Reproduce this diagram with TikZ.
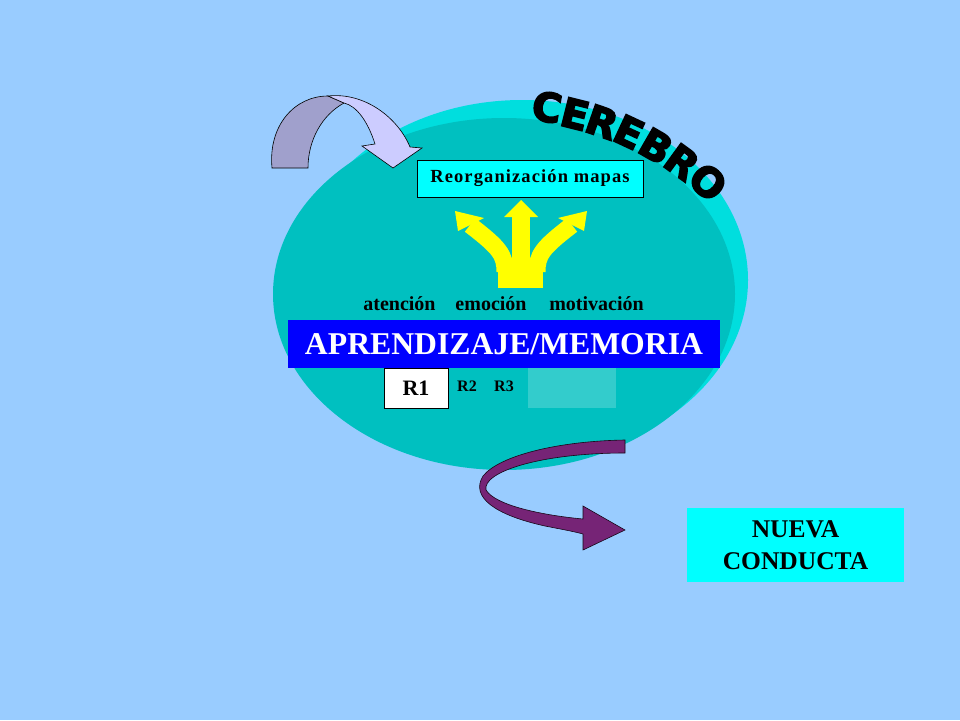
\documentclass[tikz,border=0pt]{standalone}
\usepackage{fontspec}
\setmainfont{Liberation Serif}
\newfontfamily\cerebrofont{DejaVu Sans Bold}[FakeBold=4]
\newfontfamily\espaciada{Liberation Serif}[LetterSpace=6]
\definecolor{fondo}{RGB}{153,204,255}
\definecolor{cerebroatras}{RGB}{0,222,222}
\definecolor{cerebrofrente}{RGB}{0,192,192}
\definecolor{cian}{RGB}{0,255,255}
\definecolor{azul}{RGB}{0,0,255}
\definecolor{amarillo}{RGB}{255,255,0}
\definecolor{tenue}{RGB}{51,204,204}
\definecolor{lilaoscuro}{RGB}{160,160,204}
\definecolor{lilaclaro}{RGB}{204,204,255}
\definecolor{morado}{RGB}{118,36,118}

\begin{document}
\begin{tikzpicture}
[
    x=1pt, y=-1pt,
    caja/.style={draw=black, line width=0.8pt, inner sep=0pt, font=\bfseries},
    letra/.style={font=\cerebrofont\fontsize{40}{40}\selectfont, inner sep=0pt},
    palabra/.style={font=\bfseries\fontsize{20}{24}\selectfont, anchor=base, inner sep=0pt},
    brazo/.style={draw=amarillo, line width=17pt},
]
\useasboundingbox (0,0) rectangle (960,720);
\fill[fondo] (0,0) rectangle (960,720);

% cerebro
\fill[cerebroatras] (522,280) ellipse [x radius=226, y radius=180];
\fill[cerebrofrente] (504,294) ellipse [x radius=231, y radius=176];

\foreach \l/\px/\py/\ang [count=\n] in {C/547/107/10, E/575/114/14, R/602/122/19,
    E/629/132/25, B/656/146/30, R/682/162/36, O/708/182/42}
    \node[letra, rotate=-\ang] (cer\n) at (\px,\py) {\l};

% flecha lila
\filldraw[fill=lilaoscuro, draw=black, line width=0.6pt]
    (272,168) .. controls (268,125) and (295,96) .. (328,96) -- (344,103)
    .. controls (322,115) and (308,140) .. (308,168) -- cycle;
\filldraw[fill=lilaclaro, draw=black, line width=0.6pt]
    (328,96) .. controls (365,92) and (398,118) .. (410,147) -- (422,148)
    -- (393,168) -- (362,146) -- (375,144)
    .. controls (368,122) and (357,106) .. (344,103) -- cycle;

\node[caja, fill=cian, minimum width=226pt, minimum height=37pt,
    font=\espaciada\bfseries\fontsize{18.5}{22}\selectfont] (reorg) at (530,178.5)
    {Reorganizaci\'on mapas};

% flechas amarillas
\fill[amarillo] (498,262) rectangle (543,288);
\fill[amarillo] (512,216) rectangle (530,280);
\fill[amarillo] (504,217) -- (521,200) -- (538,217) -- cycle;
\draw[brazo] (505,272) .. controls (505,255) and (500,248) .. (470,225);
\draw[brazo] (537,272) .. controls (537,255) and (542,248) .. (572,225);
\fill[amarillo] (455,211) -- (484,218) -- (458,231) -- cycle;
\fill[amarillo] (587,211) -- (558,218) -- (584,231) -- cycle;

\node[palabra] (atencion) at (399.5,310) {atenci\'on};
\node[palabra] (emocion) at (491,310) {emoci\'on};
\node[palabra] (motivacion) at (596.5,310) {motivaci\'on};

\node[fill=azul, text=white, inner sep=0pt, minimum width=432pt, minimum height=48pt,
    font=\bfseries\fontsize{31.7}{34}\selectfont] (aprend) at (504,344)
    {APRENDIZAJE/MEMORIA};

\node[caja, fill=white, minimum width=64pt, minimum height=40pt,
    font=\bfseries\fontsize{22}{24}\selectfont] (r1) at (416,388) {R1};
\node[font=\bfseries\fontsize{16}{20}\selectfont, inner sep=0pt] (r2) at (467,386) {R2};
\node[font=\bfseries\fontsize{16}{20}\selectfont, inner sep=0pt] (r3) at (504,386) {R3};
\fill[tenue] (528,368) rectangle (616,408);

% flecha morada
\filldraw[fill=morado, draw=black!80!morado, line width=0.6pt]
    (625,440) .. controls (560,441) and (500,455) .. (483,476)
    .. controls (470,497) and (495,515) .. (545,526)
    .. controls (560,529) and (572,531) .. (583,534) -- (583,550) -- (625,530)
    -- (583,506) -- (583,519) .. controls (540,515) and (495,505) .. (486,490)
    .. controls (482,472) and (540,453) .. (625,453) -- cycle;

\node[fill=cian, inner sep=0pt, minimum width=217pt, minimum height=74pt, align=center,
    font=\bfseries\fontsize{25.5}{32}\selectfont] (nueva) at (795.5,545)
    {NUEVA\\CONDUCTA};
\end{tikzpicture}
\end{document}
